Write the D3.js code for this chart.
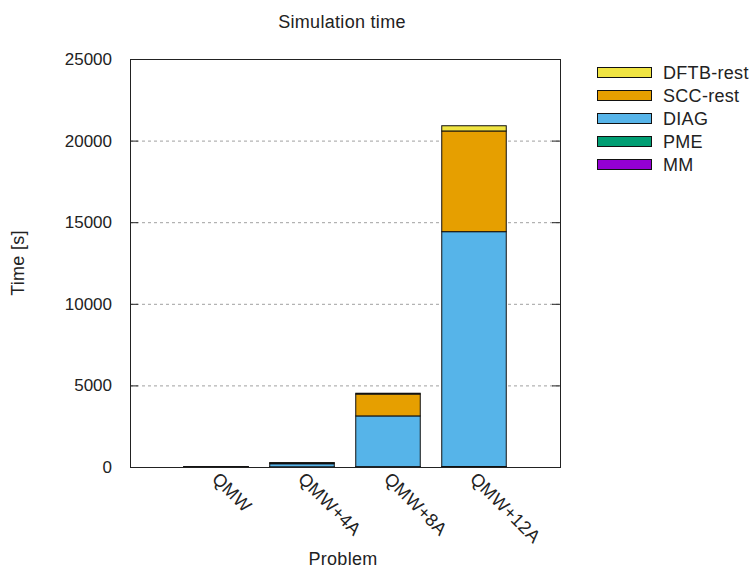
<!DOCTYPE html>
<html>
<head>
<meta charset="utf-8">
<style>
body { margin: 0; background: #fff; }
text { font-family: "Liberation Sans", Arial, sans-serif; fill: #222; }
.word { font-size: 18px; letter-spacing: 0.3px; }
</style>
</head>
<body>
<script src="https://d3js.org/d3.v7.min.js"></script>
<script>
// data (seconds)
var problems = ["QMW", "QMW+4A", "QMW+8A", "QMW+12A"];
var series = ["MM", "PME", "DIAG", "SCC-rest", "DFTB-rest"];
var colors = ["#9400d3", "#009e73", "#56b4e9", "#e69f00", "#f0e442"];
var mm = [1, 5, 10, 15];
var pme = [1, 5, 10, 15];
var diag = [2, 190, 3110, 14390];
var sccRest = [1, 50, 1340, 6170];
var dftbRest = [1, 20, 50, 320];
var yTicks = [0, 5000, 10000, 15000, 20000, 25000];

var W = 756, H = 570;
var margin = {top: 59, right: 196, bottom: 103, left: 130};
var width = W - margin.left - margin.right;   // 430
var height = H - margin.top - margin.bottom;  // 408

var svg = d3.select("body").append("svg")
    .attr("width", W)
    .attr("height", H);

var g = svg.append("g")
    .attr("transform", "translate(" + margin.left + "," + margin.top + ")");

// gnuplot style x range: -1 .. n
var x = d3.scaleLinear().domain([-1, problems.length]).range([0, width]);
var y = d3.scaleLinear().domain([0, 25000]).range([height, 0]);
var barW = x(0.75) - x(0);

// gridlines
g.selectAll(".grid").data(yTicks.filter(function(d){ return d > 0 && d < 25000; }))
  .enter().append("line")
    .attr("x1", 0).attr("x2", width)
    .attr("y1", function(d){ return y(d) + 0.5; })
    .attr("y2", function(d){ return y(d) + 0.5; })
    .attr("stroke", "#a0a0a0")
    .attr("stroke-dasharray", "3,3");

// stack the series
var table = problems.map(function(p, i) {
  return {problem: p, i: i, "MM": mm[i], "PME": pme[i], "DIAG": diag[i],
          "SCC-rest": sccRest[i], "DFTB-rest": dftbRest[i]};
});
var stacked = d3.stack().keys(series)(table);

g.selectAll(".layer").data(stacked).enter().append("g")
    .attr("fill", function(d, k){ return colors[k]; })
  .selectAll("rect").data(function(d){ return d; })
  .enter().append("rect")
    .attr("x", function(d){ return x(d.data.i) - barW / 2; })
    .attr("width", barW)
    .attr("y", function(d){ return y(d[1]); })
    .attr("height", function(d){ return y(d[0]) - y(d[1]); })
    .attr("stroke", "#111")
    .attr("stroke-width", 1);

// frame
g.append("rect")
    .attr("x", 0.5).attr("y", 0.5)
    .attr("width", width).attr("height", height)
    .attr("fill", "none").attr("stroke", "#222");

// y axis ticks (both sides, inward) and labels
g.selectAll(".tl").data(yTicks).enter().append("line")
    .attr("x1", 0).attr("x2", 8)
    .attr("y1", function(d){ return y(d) + 0.5; })
    .attr("y2", function(d){ return y(d) + 0.5; })
    .attr("stroke", "#222");
g.selectAll(".tr").data(yTicks).enter().append("line")
    .attr("x1", width - 8).attr("x2", width)
    .attr("y1", function(d){ return y(d) + 0.5; })
    .attr("y2", function(d){ return y(d) + 0.5; })
    .attr("stroke", "#222");
g.selectAll(".ylab").data(yTicks).enter().append("text")
    .attr("x", -18)
    .attr("y", function(d){ return y(d); })
    .attr("dy", "0.35em")
    .attr("text-anchor", "end")
    .style("font-size", "17px")
    .text(function(d){ return d; });

// x tick labels rotated
g.selectAll(".xlab").data(problems).enter().append("text")
    .attr("class", "word")
    .attr("transform", function(d, i){
      return "translate(" + (x(i) - 5) + "," + (height + 13) + ") rotate(45)";
    })
    .attr("text-anchor", "start")
    .text(function(d){ return d; });

// titles
svg.append("text")
    .attr("class", "word")
    .attr("x", margin.left + width / 2 - 3)
    .attr("y", 28)
    .attr("text-anchor", "middle")
    .text("Simulation time");

svg.append("text")
    .attr("class", "word")
    .attr("x", margin.left + width / 2 - 2)
    .attr("y", 565)
    .attr("text-anchor", "middle")
    .text("Problem");

svg.append("text")
    .attr("class", "word")
    .attr("transform", "translate(24," + (margin.top + height / 2) + ") rotate(-90)")
    .attr("text-anchor", "middle")
    .text("Time [s]");

// legend, top entry = last series
var legendItems = series.slice().reverse();
var legend = svg.append("g").attr("transform", "translate(597,67)");
var row = legend.selectAll(".row").data(legendItems).enter().append("g")
    .attr("transform", function(d, k){ return "translate(0," + (k * 23) + ")"; });
row.append("rect")
    .attr("x", 0.5).attr("y", 0.5)
    .attr("width", 54).attr("height", 10)
    .attr("fill", function(d){ return colors[series.indexOf(d)]; })
    .attr("stroke", "#111");
row.append("text")
    .attr("class", "word")
    .attr("x", 66).attr("y", 6)
    .attr("dy", "0.35em")
    .text(function(d){ return d; });
</script>
</body>
</html>
